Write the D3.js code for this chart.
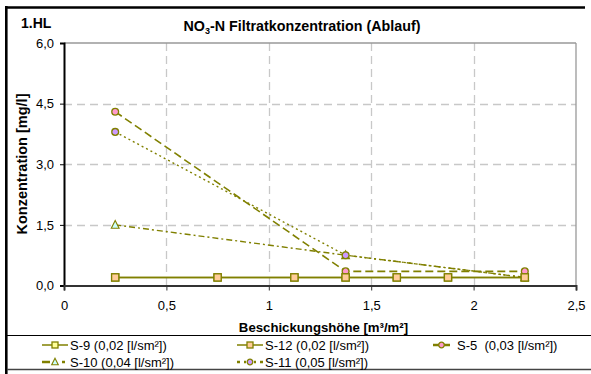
<!DOCTYPE html>
<html><head><meta charset="utf-8">
<script src="https://cdn.jsdelivr.net/npm/d3@7"></script>
<style>body{margin:0;background:#fff}svg{display:block;font-family:"Liberation Sans",Arial,sans-serif}</style>
</head><body><svg id="c" width="591" height="374"></svg>
<script>
const xTicks = [0, 0.5, 1, 1.5, 2, 2.5];
const yTicks = [0, 1.5, 3, 4.5, 6];
const s9x = [0.25, 0.75, 1.125, 1.375, 1.625, 1.875, 2.25];
const s9y = [0.2, 0.2, 0.2, 0.2, 0.2, 0.2, 0.2];
const s12x = [0.25, 0.75, 1.125, 1.375, 1.625, 1.875, 2.25];
const s12y = [0.2, 0.2, 0.2, 0.2, 0.2, 0.2, 0.2];
const s5x = [0.25, 1.375, 2.25];
const s5y = [4.3, 0.35, 0.35];
const s10x = [0.25, 1.375, 2.25];
const s10y = [1.5, 0.75, 0.2];
const s11x = [0.25, 1.375, 2.25];
const s11y = [3.8, 0.75, 0.2];
const seriesNames = ["S-9 (0,02 [l/sm²])", "S-12 (0,02 [l/sm²])", "S-5  (0,03 [l/sm²])", "S-10 (0,04 [l/sm²])", "S-11 (0,05 [l/sm²])"];

const olive = "#808000";
const FONT = "Liberation Sans, Arial, sans-serif";
const series = [
  {name: seriesNames[3], xs: s10x, ys: s10y, sym: "tri", fill: "#CCFFFF", dash: "6,3,2,3", w: 1.4},
  {name: seriesNames[4], xs: s11x, ys: s11y, sym: "circ", fill: "#CC99FF", dash: "2,3", w: 1.4},
  {name: seriesNames[2], xs: s5x, ys: s5y, sym: "circ", fill: "#FF99CC", dash: "8,4", w: 1.6},
  {name: seriesNames[0], xs: s9x, ys: s9y, sym: "sq", fill: "#FFFF99", dash: null, w: 1.5},
  {name: seriesNames[1], xs: s12x, ys: s12y, sym: "sq", fill: "#FFCC99", dash: null, w: 1.5}
];

const svg = d3.select("#c");
const x = d3.scaleLinear().domain([0, 2.5]).range([64, 576]);
const y = d3.scaleLinear().domain([0, 6]).range([285.5, 43]);

// outer frame
svg.append("line").attr("x1", 6).attr("x2", 585).attr("y1", 7.5).attr("y2", 7.5).attr("stroke", "#000").attr("stroke-width", 2.5);
svg.append("line").attr("x1", 6.3).attr("x2", 6.3).attr("y1", 6).attr("y2", 374).attr("stroke", "#000").attr("stroke-width", 2.6);

// grid
const g = svg.append("g");
g.selectAll(".hg").data(yTicks.filter(d => d > 0 && d < 6)).join("line")
  .attr("x1", x(0)).attr("x2", x(2.5)).attr("y1", d => Math.round(y(d)) + 0.5).attr("y2", d => Math.round(y(d)) + 0.5)
  .attr("stroke", "#c8c8c8").attr("stroke-width", 1.3).attr("stroke-dasharray", "8,5");
g.selectAll(".vg").data(xTicks.filter(d => d > 0 && d < 2.5)).join("line")
  .attr("y1", y(6)).attr("y2", y(0)).attr("x1", d => Math.round(x(d)) + 0.5).attr("x2", d => Math.round(x(d)) + 0.5)
  .attr("stroke", "#c8c8c8").attr("stroke-width", 1.3).attr("stroke-dasharray", "8,5");
g.append("line").attr("x1", x(2.5)).attr("x2", x(2.5)).attr("y1", y(6)).attr("y2", y(0)).attr("stroke", "#999").attr("stroke-width", 1.3);
g.append("line").attr("x1", x(0)).attr("x2", x(2.5)).attr("y1", y(6)).attr("y2", y(6)).attr("stroke", "#999").attr("stroke-width", 1.3);

// axes
const yAxis = svg.append("g").attr("transform", `translate(${x(0)},0)`)
  .call(d3.axisLeft(y).tickValues(yTicks).tickSize(4).tickPadding(6).tickFormat(d => d3.format(".1f")(d).replace(".", ",")));
yAxis.select(".domain").attr("stroke", "#000").attr("stroke-width", 2);
yAxis.selectAll(".tick line").attr("stroke", "#000");
yAxis.selectAll("text").attr("font-size", 13).attr("fill", "#000").attr("font-family", FONT);

const xAxis = svg.append("g").attr("transform", `translate(0,${y(0)})`)
  .call(d3.axisBottom(x).tickValues(xTicks).tickSize(5).tickPadding(10).tickFormat(d => String(d).replace(".", ",")));
xAxis.select(".domain").attr("stroke", "#333").attr("stroke-width", 2);
xAxis.selectAll(".tick line").attr("stroke", "#333");
xAxis.selectAll("text").attr("font-size", 13).attr("fill", "#000").attr("font-family", FONT);

// symbol drawer
function drawSym(sel, sym, fill, size) {
  if (sym === "sq") {
    sel.append("rect").attr("x", -size).attr("y", -size).attr("width", 2 * size).attr("height", 2 * size)
      .attr("fill", fill).attr("stroke", olive).attr("stroke-width", 1.3);
  } else if (sym === "circ") {
    sel.append("circle").attr("r", size).attr("fill", fill).attr("stroke", olive).attr("stroke-width", 1.3);
  } else {
    sel.append("path").attr("d", `M0,${-size - 1}L${size + 0.5},${size}L${-size - 0.5},${size}Z`)
      .attr("fill", fill).attr("stroke", olive).attr("stroke-width", 1.1);
  }
}

const line = d3.line().x(d => x(d[0])).y(d => y(d[1]));
series.forEach(s => {
  const pts = s.xs.map((v, i) => [v, s.ys[i]]);
  svg.append("path").attr("d", line(pts)).attr("fill", "none").attr("stroke", olive)
    .attr("stroke-width", s.w).attr("stroke-dasharray", s.dash);
});
series.forEach(s => {
  const pts = s.xs.map((v, i) => [v, s.ys[i]]);
  pts.forEach(p => {
    const gg = svg.append("g").attr("transform", `translate(${x(p[0])},${y(p[1])})`);
    drawSym(gg, s.sym, s.fill, s.sym === "sq" ? 3.6 : 3.4);
  });
});

// titles
const t = svg.append("text").attr("x", 302).attr("y", 31).attr("text-anchor", "middle")
  .attr("font-size", 14.3).attr("font-weight", "bold").attr("fill", "#000");
t.append("tspan").text("NO");
t.append("tspan").text("3").attr("font-size", 9).attr("dy", 3);
t.append("tspan").text("-N Filtratkonzentration (Ablauf)").attr("dy", -3);
svg.append("text").attr("x", 21).attr("y", 27.5).attr("font-size", 14).attr("font-weight", "bold").text("1.HL");
svg.append("text").attr("transform", `translate(27,164) rotate(-90)`).attr("text-anchor", "middle")
  .attr("font-size", 14.5).attr("font-weight", "bold").text("Konzentration [mg/l]");
svg.append("text").attr("x", 323.5).attr("y", 331.5).attr("text-anchor", "middle")
  .attr("font-size", 13.2).attr("font-weight", "bold").text("Beschickungshöhe [m³/m²]");

// legend
svg.append("line").attr("x1", 7).attr("x2", 591).attr("y1", 335.5).attr("y2", 335.5).attr("stroke", "#000").attr("stroke-width", 1.2);
svg.append("line").attr("x1", 7).attr("x2", 591).attr("y1", 369.5).attr("y2", 369.5).attr("stroke", "#444").attr("stroke-width", 1.5);
const legItems = [
  {s: series[3], x: 42, y: 345, len: 26, tx: 70},
  {s: series[4], x: 237, y: 345, len: 26, tx: 265},
  {s: series[2], x: 433, y: 345, len: 17, tx: 457},
  {s: series[0], x: 42, y: 362, len: 26, tx: 70},
  {s: series[1], x: 237, y: 362, len: 26, tx: 265}
];
legItems.forEach(it => {
  const s = it.s, L = it.len;
  const lg = svg.append("g").attr("transform", `translate(${it.x},${it.y})`);
  if (s.dash === null) {
    lg.append("line").attr("x1", 0).attr("x2", L).attr("stroke", olive).attr("stroke-width", 1.5);
  } else if (s.sym === "tri") {
    lg.append("line").attr("x1", 0).attr("x2", 8).attr("stroke", olive).attr("stroke-width", 2.5);
    lg.append("line").attr("x1", 20).attr("x2", 23).attr("stroke", olive).attr("stroke-width", 2.5);
  } else if (s.dash === "2,3") {
    lg.append("line").attr("x1", 0).attr("x2", 3).attr("stroke", olive).attr("stroke-width", 2.5);
    lg.append("line").attr("x1", 7).attr("x2", 9).attr("stroke", olive).attr("stroke-width", 2.5);
    lg.append("line").attr("x1", 17).attr("x2", 19).attr("stroke", olive).attr("stroke-width", 2.5);
    lg.append("line").attr("x1", 23).attr("x2", 26).attr("stroke", olive).attr("stroke-width", 2.5);
  } else {
    lg.append("line").attr("x1", 0).attr("x2", L).attr("stroke", olive).attr("stroke-width", 2.5);
  }
  const sg = lg.append("g").attr("transform", `translate(${L / 2},0)`);
  drawSym(sg, s.sym, s.fill, s.sym === "sq" ? 3 : 2.8);
  lg.append("text").attr("x", it.tx - it.x).attr("y", 4.5).attr("font-size", 13).attr("fill", "#000")
    .attr("xml:space", "preserve").style("white-space", "pre").text(s.name);
});
</script></body></html>
